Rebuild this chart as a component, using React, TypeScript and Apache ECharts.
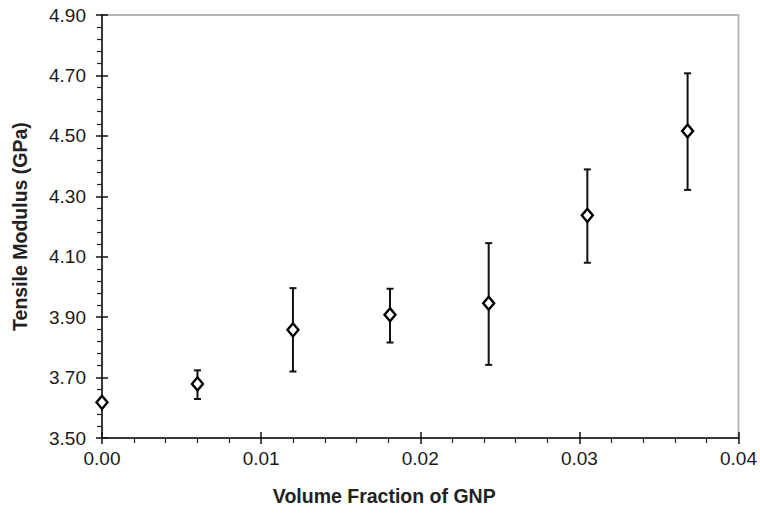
import React, { useEffect, useRef } from "react";
import * as echarts from "echarts";

const volumeFraction = [0, 0.006, 0.012, 0.0181, 0.0243, 0.0305, 0.0368];
const modulus = [3.618, 3.679, 3.858, 3.908, 3.946, 4.237, 4.516];
const errLow = [3.61, 3.629, 3.72, 3.816, 3.742, 4.08, 4.321];
const errHigh = [3.626, 3.724, 3.996, 3.994, 4.145, 4.389, 4.707];

const yTickLabels = [3.5, 3.7, 3.9, 4.1, 4.3, 4.5, 4.7, 4.9];
const xTickLabels = [0, 0.01, 0.02, 0.03, 0.04];

const yMinor: number[] = [];
for (let i = 0; i < yTickLabels.length - 1; i++) {
  for (let k = 1; k < 5; k++) yMinor.push(+(yTickLabels[i] + k * 0.04).toFixed(3));
}

const FONT = "'Liberation Sans', Arial, sans-serif";

export default function App() {
  const ref = useRef<HTMLDivElement>(null);
  useEffect(() => {
    if (!ref.current) return;
    const chart = echarts.init(ref.current, null, { renderer: "svg" });
    const grid = { left: 102, right: 19, top: 15, bottom: 76 };
    const option: any = {
      animation: false,
      backgroundColor: "#ffffff",
      grid: {
        ...grid,
        show: true,
        borderColor: "#b4b4b4",
        borderWidth: 2,
        backgroundColor: "transparent",
      },
      xAxis: [
        {
          type: "value",
          min: 0,
          max: 0.04,
          interval: 0.01,
          position: "bottom",
          name: "Volume Fraction of GNP",
          nameLocation: "middle",
          nameGap: 48,
          nameTextStyle: {
            fontFamily: FONT,
            fontWeight: "bold",
            fontSize: 19.5,
            color: "#222",
            padding: [0, 72, 0, 0],
          },
          axisLine: { show: true, onZero: false, lineStyle: { color: "#111", width: 1.5 } },
          axisTick: { show: true, inside: false, length: 6, lineStyle: { color: "#111", width: 1.5 } },
          minorTick: { show: true, splitNumber: 5, length: 5, lineStyle: { color: "#222", width: 1.2 } },
          axisLabel: {
            fontFamily: FONT,
            fontSize: 19,
            color: "#1a1a1a",
            margin: 11,
            formatter: (v: number) => v.toFixed(2),
            customValues: xTickLabels,
          },
          splitLine: { show: false },
        },
        {
          type: "value",
          min: 0,
          max: 0.04,
          interval: 0.01,
          position: "bottom",
          axisLine: { show: false, onZero: false },
          axisTick: { show: true, inside: true, length: 6, lineStyle: { color: "#111", width: 1.5 } },
          axisLabel: { show: false },
          splitLine: { show: false },
        },
      ],
      yAxis: [
        {
          type: "value",
          min: 3.5,
          max: 4.9,
          position: "left",
          name: "Tensile Modulus (GPa)",
          nameLocation: "middle",
          nameGap: 72,
          nameTextStyle: {
            fontFamily: FONT,
            fontWeight: "bold",
            fontSize: 19.5,
            color: "#222",
          },
          axisLine: { show: true, onZero: false, lineStyle: { color: "#111", width: 1.5 } },
          axisTick: {
            show: true,
            inside: false,
            length: 6,
            customValues: yTickLabels,
            lineStyle: { color: "#111", width: 1.5 },
          },
          axisLabel: {
            fontFamily: FONT,
            fontSize: 19,
            color: "#1a1a1a",
            margin: 16,
            customValues: yTickLabels,
            formatter: (v: number) => v.toFixed(2),
          },
          splitLine: { show: false },
        },
        {
          type: "value",
          min: 3.5,
          max: 4.9,
          position: "left",
          axisLine: { show: false, onZero: false },
          axisTick: {
            show: true,
            inside: true,
            length: 6,
            customValues: yTickLabels,
            lineStyle: { color: "#111", width: 1.5 },
          },
          axisLabel: { show: false },
          splitLine: { show: false },
        },
        {
          type: "value",
          min: 3.5,
          max: 4.9,
          position: "left",
          axisLine: { show: false, onZero: false },
          axisTick: {
            show: true,
            inside: false,
            length: 5,
            customValues: yMinor,
            lineStyle: { color: "#222", width: 1.2 },
          },
          axisLabel: { show: false },
          splitLine: { show: false },
        },
      ],
      series: [
        {
          type: "custom",
          z: 1,
          xAxisIndex: 0,
          yAxisIndex: 0,
          encode: { x: 0, y: [1, 2] },
          data: volumeFraction.map((x, i) => [x, errLow[i], errHigh[i]]),
          renderItem: (params: any, api: any) => {
            const x = api.value(0);
            const lo = api.coord([x, api.value(1)]);
            const hi = api.coord([x, api.value(2)]);
            const cap = 3.5;
            const style = { stroke: "#111", lineWidth: 2 };
            return {
              type: "group",
              children: [
                { type: "line", shape: { x1: lo[0], y1: lo[1], x2: hi[0], y2: hi[1] }, style },
                { type: "line", shape: { x1: hi[0] - cap, y1: hi[1], x2: hi[0] + cap, y2: hi[1] }, style },
                { type: "line", shape: { x1: lo[0] - cap, y1: lo[1], x2: lo[0] + cap, y2: lo[1] }, style },
              ],
            };
          },
        },
        {
          type: "scatter",
          z: 3,
          xAxisIndex: 0,
          yAxisIndex: 0,
          symbol: "diamond",
          symbolSize: [11, 13],
          itemStyle: { color: "#ffffff", borderColor: "#000", borderWidth: 2.4, opacity: 1 },
          data: volumeFraction.map((x, i) => [x, modulus[i]]),
        },
      ],
    };
    chart.setOption(option);
    return () => chart.dispose();
  }, []);
  return (
    <div
      ref={ref}
      style={{ position: "fixed", left: 0, top: 0, width: 760, height: 514 }}
    />
  );
}
